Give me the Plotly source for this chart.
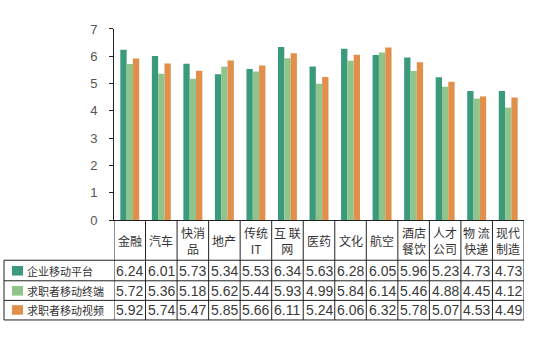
import plotly.graph_objects as go

categories = ["金融", "汽车", "快消<br>品", "地产", "传统<br>IT", "互 联<br>网", "医药", "文化", "航空",
              "酒店<br>餐饮", "人才<br>公司", "物 流<br>快递", "现代<br>制造"]
series_names = ["企业移动平台", "求职者移动终端", "求职者移动视频"]
platform = [6.24, 6.01, 5.73, 5.34, 5.53, 6.34, 5.63, 6.28, 6.05, 5.96, 5.23, 4.73, 4.73]
terminal = [5.72, 5.36, 5.18, 5.62, 5.44, 5.93, 4.99, 5.84, 6.14, 5.46, 4.88, 4.45, 4.12]
video = [5.92, 5.74, 5.47, 5.85, 5.66, 6.11, 5.24, 6.06, 6.32, 5.78, 5.07, 4.53, 4.49]
y_ticks = [0, 1, 2, 3, 4, 5, 6, 7]

colors = ["#3a9a7b", "#8fc48a", "#e0904b"]
series = [platform, terminal, video]

W, H = 536, 338


def px(x):
    return x / W


def py(y):
    return (H - y) / H


idx = list(range(len(categories)))
fig = go.Figure()
for name, vals, c in zip(series_names, series, colors):
    fig.add_trace(go.Bar(x=idx, y=vals, name=name, marker=dict(color=c, line=dict(width=0)),
                         showlegend=False, hoverinfo="y"))

line_c = "#222222"
shapes = []
# column boundaries of table
for i in range(len(categories) + 1):
    shapes.append(dict(type="line", xref="x", yref="paper", x0=i - 0.5, x1=i - 0.5,
                       y0=py(223), y1=py(327.5), line=dict(color=line_c, width=1)))
# horizontal rows
for yy in [265, 286.5, 307, 327.5]:
    shapes.append(dict(type="line", xref="paper", yref="paper", x0=px(4), x1=px(524),
                       y0=py(yy), y1=py(yy), line=dict(color=line_c, width=1)))
shapes.append(dict(type="line", xref="paper", yref="paper", x0=px(4), x1=px(4),
                   y0=py(265), y1=py(327.5), line=dict(color=line_c, width=1)))

row_centers = [276, 297, 317]
annotations = []
cjk = "Noto Sans CJK SC, Liberation Sans, Arial"
for i, cat in enumerate(categories):
    annotations.append(dict(xref="x", yref="paper", x=i, y=py(244), text=cat, showarrow=False,
                            xanchor="center", yanchor="middle",
                            font=dict(family=cjk, size=12, color="#333333")))
for r, (name, vals, c) in enumerate(zip(series_names, series, colors)):
    yc = row_centers[r]
    shapes.append(dict(type="rect", xref="paper", yref="paper", x0=px(12), x1=px(23),
                       y0=py(yc + 5), y1=py(yc - 5), fillcolor=c, line=dict(width=0)))
    annotations.append(dict(xref="paper", yref="paper", x=px(25), y=py(yc), text=name,
                            showarrow=False, xanchor="left", yanchor="middle",
                            font=dict(family=cjk, size=11, color="#333333")))
    for i, v in enumerate(vals):
        annotations.append(dict(xref="x", yref="paper", x=i, y=py(yc), text=f"{v:.2f}",
                                showarrow=False, xanchor="center", yanchor="middle",
                                font=dict(family="Liberation Sans, Arial", size=14, color="#3a3a3a")))

fig.update_layout(
    width=W, height=H, margin=dict(l=0, r=0, t=0, b=0),
    paper_bgcolor="white", plot_bgcolor="white",
    barmode="group", bargap=0.4, bargroupgap=0,
    xaxis=dict(domain=[px(114), px(524)], range=[-0.5, 12.5], showticklabels=False,
               ticks="", showgrid=False, zeroline=False, showline=True, linecolor=line_c,
               linewidth=1, fixedrange=True),
    yaxis=dict(domain=[py(223), py(23)], range=[0, 7], tickvals=y_ticks, ticks="outside",
               ticklen=4, tickcolor=line_c, showline=True, linecolor=line_c, linewidth=1,
               showgrid=False, zeroline=False, ticklabelstandoff=9,
               tickfont=dict(family="Liberation Sans, Arial", size=13, color="#555555")),
    shapes=shapes, annotations=annotations,
)
fig.write_html("out.html")
